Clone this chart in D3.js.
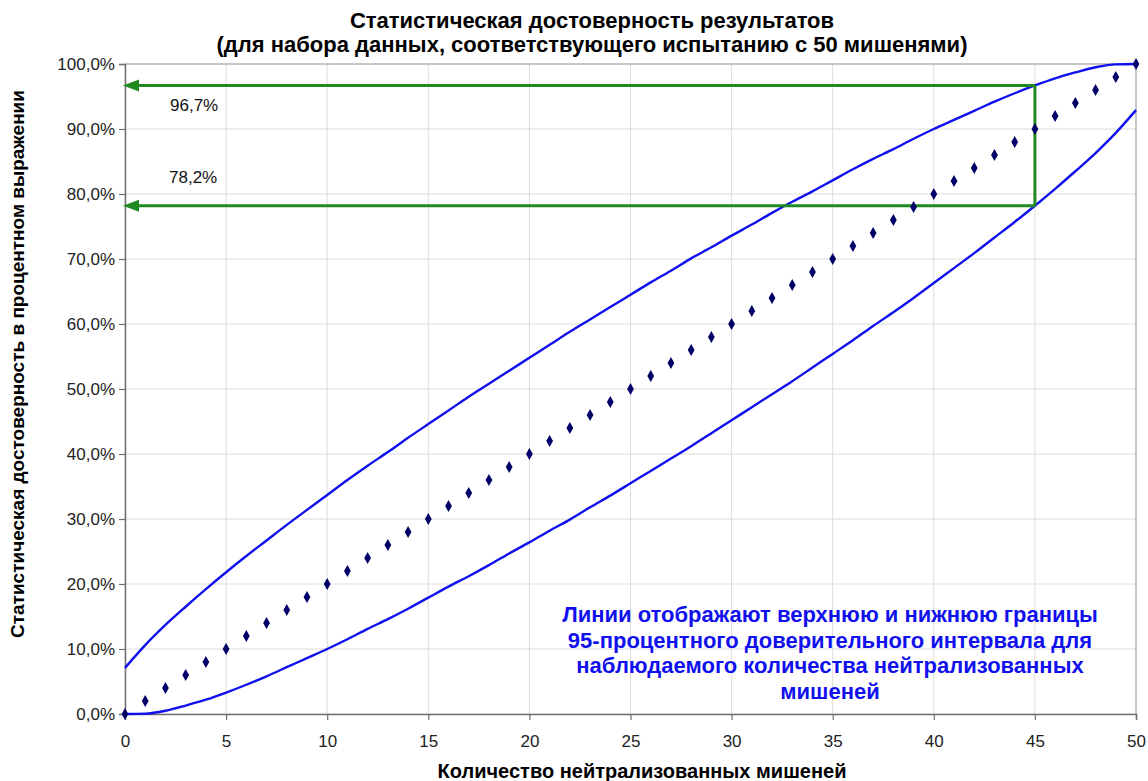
<!DOCTYPE html>
<html><head><meta charset="utf-8">
<script src="https://cdn.jsdelivr.net/npm/d3@7/dist/d3.min.js"></script>
<style>body{margin:0;background:#fff}svg{display:block}</style>
</head><body>
<svg id="c" width="1148" height="781"></svg>
<script>
const counts = d3.range(0, 51);
const observed = [0,2,4,6,8,10,12,14,16,18,20,22,24,26,28,30,32,34,36,38,40,42,44,46,48,50,52,54,56,58,60,62,64,66,68,70,72,74,76,78,80,82,84,86,88,90,92,94,96,98,100];
const upper = [7.1,10.6,13.7,16.5,19.2,21.8,24.3,26.7,29.1,31.4,33.7,36.0,38.2,40.3,42.5,44.6,46.7,48.8,50.8,52.8,54.8,56.8,58.8,60.7,62.6,64.5,66.4,68.2,70.1,71.8,73.6,75.3,77.1,78.8,80.4,82.1,83.8,85.4,86.9,88.5,90.0,91.4,92.8,94.2,95.5,96.7,97.8,98.7,99.5,99.95,100];
const lower = [0,0.05,0.5,1.3,2.2,3.3,4.5,5.8,7.2,8.6,10.0,11.5,13.1,14.6,16.2,17.9,19.6,21.2,22.9,24.7,26.4,28.2,29.9,31.8,33.6,35.5,37.4,39.3,41.2,43.2,45.2,47.2,49.2,51.2,53.3,55.4,57.5,59.7,61.8,64.0,66.3,68.6,70.9,73.3,75.7,78.2,80.8,83.5,86.3,89.4,92.9];
const xTicks = [0,5,10,15,20,25,30,35,40,45,50];
const yTicks = [0,10,20,30,40,50,60,70,80,90,100];
const markerX = 45;
const markerUpper = 96.7;
const markerLower = 78.2;
const markerLabels = ["96,7%", "78,2%"];
const titleLines = ["Статистическая достоверность результатов", "(для набора данных, соответствующего испытанию с 50 мишенями)"];
const xTitle = "Количество нейтрализованных мишеней";
const yTitle = "Статистическая достоверность в процентном выражении";
const noteLines = ["Линии отображают верхнюю и нижнюю границы", "95-процентного доверительного интервала для", "наблюдаемого количества нейтрализованных", "мишеней"];

const svg = d3.select("#c");
const L = 125, R = 1136, T = 64, B = 714;
const x = d3.scaleLinear().domain([0, 50]).range([L, R]);
const y = d3.scaleLinear().domain([0, 100]).range([B, T]);
const font = "'Liberation Sans', Arial, sans-serif";

// grid
svg.append("g").selectAll("line").data(yTicks).join("line")
  .attr("x1", L).attr("x2", R).attr("y1", d => y(d)).attr("y2", d => y(d))
  .attr("stroke", "#dcdcdc").attr("stroke-width", 1);
svg.append("g").selectAll("line").data(xTicks).join("line")
  .attr("y1", T).attr("y2", B).attr("x1", d => x(d)).attr("x2", d => x(d))
  .attr("stroke", "#dcdcdc").attr("stroke-width", 1);
svg.append("line").attr("x1", L).attr("x2", R).attr("y1", T).attr("y2", T).attr("stroke", "#a0a0a0");
svg.append("line").attr("x1", R).attr("x2", R).attr("y1", T).attr("y2", B).attr("stroke", "#a0a0a0");

// axes
const fmt = d => d.toFixed(1).replace(".", ",") + "%";
const yAxis = svg.append("g").attr("transform", `translate(${L},0)`)
  .call(d3.axisLeft(y).tickValues(yTicks).tickSize(6).tickPadding(4).tickFormat(fmt));
const xAxis = svg.append("g").attr("transform", `translate(0,${B})`)
  .call(d3.axisBottom(x).tickValues(xTicks).tickSize(6).tickPadding(15));
[yAxis, xAxis].forEach(a => {
  a.select(".domain").attr("stroke", "#707070").attr("stroke-width", 1.5);
  a.selectAll(".tick line").attr("stroke", "#707070").attr("stroke-width", 1.2);
  a.selectAll("text").attr("font-family", font).attr("font-size", 17).attr("fill", "#222");
});

// CI lines
const line = d3.line().x((d, i) => x(counts[i])).y(d => y(d)).curve(d3.curveMonotoneX);
svg.append("path").attr("d", line(upper)).attr("fill", "none").attr("stroke", "#1010ee").attr("stroke-width", 2.4);
svg.append("path").attr("d", line(lower)).attr("fill", "none").attr("stroke", "#1010ee").attr("stroke-width", 2.4);

// green markers
const green = "#1f8a1f";
const g = svg.append("g");
[markerUpper, markerLower].forEach(v => {
  g.append("line").attr("x1", x(markerX)).attr("x2", x(0) + 12).attr("y1", y(v)).attr("y2", y(v))
    .attr("stroke", green).attr("stroke-width", 3);
  g.append("path").attr("d", `M${x(0)-2},${y(v)} L${x(0)+14},${y(v)-6} L${x(0)+14},${y(v)+6} Z`).attr("fill", green);
});
g.append("line").attr("x1", x(markerX)).attr("x2", x(markerX)).attr("y1", y(markerUpper)).attr("y2", y(markerLower))
  .attr("stroke", green).attr("stroke-width", 3);

// dots
svg.append("g").selectAll("path").data(observed).join("path")
  .attr("d", d3.symbol().type(d3.symbolDiamond).size(40))
  .attr("transform", (d, i) => `translate(${x(counts[i])},${y(d)})`)
  .attr("fill", "#000066");

// marker labels
svg.append("text").attr("x", 170).attr("y", 111).text(markerLabels[0])
  .attr("font-family", font).attr("font-size", 17).attr("fill", "#111");
svg.append("text").attr("x", 169).attr("y", 183).text(markerLabels[1])
  .attr("font-family", font).attr("font-size", 17).attr("fill", "#111");

// note
svg.append("g").selectAll("text").data(noteLines).join("text")
  .attr("x", 830).attr("y", (d, i) => 622 + i * 25.5).attr("text-anchor", "middle")
  .attr("font-family", font).attr("font-size", 22).attr("font-weight", "bold").attr("fill", "#1010ee")
  .text(d => d);

// titles
svg.append("g").selectAll("text").data(titleLines).join("text")
  .attr("x", 592).attr("y", (d, i) => 28 + i * 23.5).attr("text-anchor", "middle")
  .attr("font-family", font).attr("font-size", 22).attr("font-weight", "bold").attr("fill", "#000")
  .text(d => d);
svg.append("text").attr("x", 642).attr("y", 778).attr("text-anchor", "middle")
  .attr("font-family", font).attr("font-size", 20).attr("font-weight", "bold").text(xTitle);
svg.append("text").attr("transform", "translate(24,364) rotate(-90)").attr("text-anchor", "middle")
  .attr("font-family", font).attr("font-size", 19).attr("font-weight", "bold").text(yTitle);
</script>
</body></html>
